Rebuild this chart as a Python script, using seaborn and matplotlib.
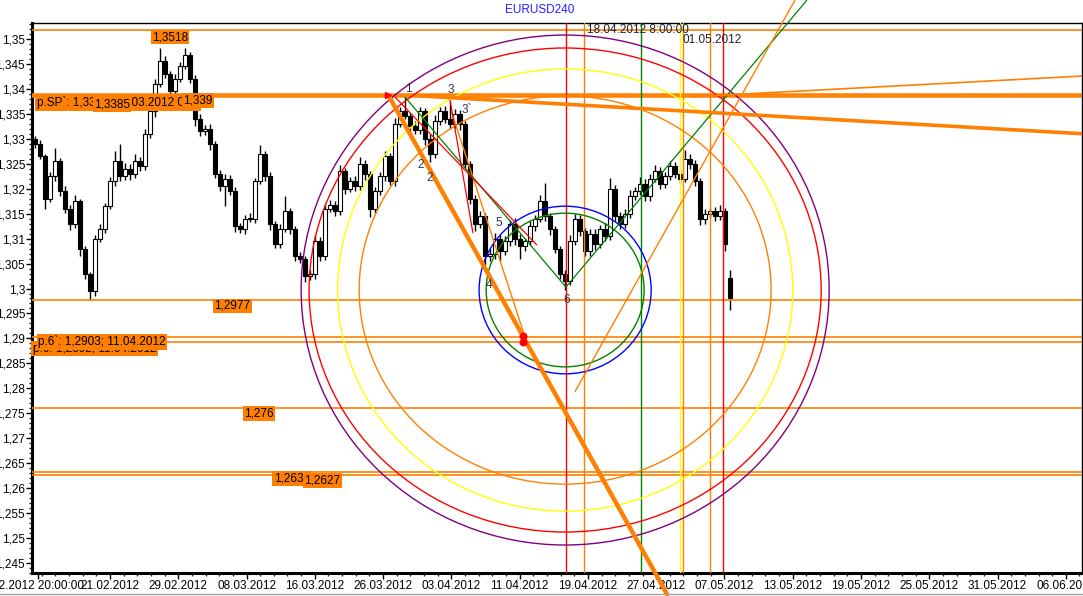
import numpy as np
import matplotlib
matplotlib.use("Agg")
import matplotlib.pyplot as plt
from matplotlib.patches import Ellipse
from matplotlib.lines import Line2D
from matplotlib.ticker import MultipleLocator, FuncFormatter, FixedLocator
import seaborn as sns

sns.set_style("white")
plt.rcParams['font.family'] = ['Liberation Sans', 'DejaVu Sans']

# ---- candles, x = trading days counted from 13.02.2012 (weekends skipped)
closes = [
    1.3290, 1.3265, 1.3180, 1.3225, 1.3255, 1.3195, 1.3160, 1.3130, 1.3175, 1.3080,
    1.3030, 1.2995, 1.3100, 1.3120, 1.3165, 1.3215, 1.3255, 1.3225, 1.3240, 1.3230,
    1.3255, 1.3245, 1.3310, 1.3355, 1.3410, 1.3455, 1.3430, 1.3395, 1.3420, 1.3445,
    1.3468, 1.3420, 1.3340, 1.3315, 1.3320, 1.3290, 1.3230, 1.3205, 1.3220, 1.3195,
    1.3125, 1.3120, 1.3140, 1.3140, 1.3215, 1.3270, 1.3225, 1.3130, 1.3090, 1.3120,
    1.3155, 1.3120, 1.3065, 1.3060, 1.3025, 1.3030, 1.3095, 1.3065, 1.3160, 1.3168,
    1.3155, 1.3235, 1.3200, 1.3215, 1.3205, 1.3250, 1.3230, 1.3160, 1.3195, 1.3225,
    1.3265, 1.3215, 1.3330, 1.3355, 1.3345, 1.3325, 1.3318, 1.3355, 1.3300, 1.3270,
    1.3335, 1.3355, 1.3340, 1.3330, 1.3350, 1.3330, 1.3250, 1.3180, 1.3130, 1.3145,
    1.3065, 1.3070, 1.3100, 1.3075, 1.3095, 1.3130, 1.3100, 1.3085, 1.3095, 1.3125,
    1.3140, 1.3175, 1.3145, 1.3120, 1.3080, 1.3030, 1.3015, 1.3095, 1.3140, 1.3115,
    1.3075, 1.3110, 1.3090, 1.3120, 1.3105, 1.3200, 1.3145, 1.3130, 1.3150, 1.3185,
    1.3195, 1.3210, 1.3185, 1.3220, 1.3235, 1.3210, 1.3225, 1.3245, 1.3230, 1.3220,
    1.3260, 1.3250, 1.3215, 1.3140, 1.3150, 1.3155, 1.3145, 1.3155, 1.3090, 1.2981,
]
# wick lengths in pips above / below the body
wick_up = [
    6, 8, 5, 9, 27, 6, 10, 7, 12, 5,
    6, 4, 8, 10, 7, 9, 20, 35, 12, 9,
    15, 8, 10, 12, 9, 27, 10, 6, 9, 8,
    14, 6, 8, 10, 7, 9, 6, 8, 10, 7,
    9, 6, 8, 12, 7, 18, 6, 8, 5, 10,
    30, 7, 6, 9, 5, 8, 12, 9, 7, 10,
    8, 12, 6, 9, 10, 14, 7, 6, 8, 9,
    10, 6, 12, 8, 29, 7, 10, 8, 6, 9,
    12, 8, 10, 35, 9, 7, 6, 5, 8, 10,
    6, 9, 12, 8, 10, 7, 12, 9, 6, 10,
    8, 12, 36, 7, 6, 5, 8, 12, 10, 7,
    6, 9, 10, 8, 12, 21, 7, 9, 10, 12,
    8, 14, 9, 10, 12, 8, 9, 11, 8, 10,
    18, 9, 7, 6, 10, 8, 9, 12, 7, 15,
]
wick_dn = [
    8, 6, 20, 7, 9, 10, 8, 12, 9, 14,
    10, 18, 9, 7, 8, 6, 9, 10, 8, 12,
    9, 10, 7, 8, 12, 6, 9, 10, 8, 7,
    6, 9, 14, 10, 8, 12, 9, 10, 40, 8,
    12, 9, 10, 7, 8, 6, 10, 12, 9, 8,
    7, 10, 9, 8, 12, 7, 10, 9, 8, 6,
    9, 8, 10, 7, 9, 8, 12, 17, 9, 7,
    10, 8, 9, 7, 6, 10, 9, 8, 12, 16,
    8, 7, 9, 10, 8, 12, 9, 10, 15, 8,
    18, 9, 10, 20, 8, 9, 12, 25, 10, 8,
    9, 7, 10, 12, 9, 10, 18, 8, 7, 10,
    10, 9, 12, 8, 10, 7, 9, 10, 8, 9,
    7, 8, 10, 9, 7, 10, 8, 7, 9, 8,
    7, 10, 9, 12, 10, 8, 9, 7, 14, 24,
]
first_open = 1.3300
gap_open = 1.3022          # 07.05 opened with a gap
first_day, last_day = -0.6, 60.5

# ---- time axis
date_labels = ['02.2012 20:00:00', '21.02.2012', '29.02.2012', '08.03.2012', '16.03.2012',
               '26.03.2012', '03.04.2012', '11.04.2012', '19.04.2012', '27.04.2012',
               '07.05.2012', '13.05.2012', '19.05.2012', '25.05.2012', '31.05.2012', '06.06.2012']
label_days = [-0.35, 6, 12, 18, 24, 30, 36, 42, 48, 54, 60, 66, 72, 78, 84, 90]

# ---- horizontal levels
levels = [1.3518, 1.3390, 1.3385, 1.2977, 1.2903, 1.2893, 1.2760, 1.2632, 1.2627]
level_lw = [1.2, 1.8, 1.8, 1.2, 1.2, 1.2, 1.2, 1.2, 1.2]

# ---- vertical lines
vline_days = [46.07, 47.65, 52.66, 56.09, 56.35, 58.72, 59.87]
vline_colors = ['#ff0000', '#ff8000', '#008000', '#ffff00', '#ff8000', '#ff8000', '#ff0000']

# ---- circles around point 6
center_day, center_price = 46.0, 1.2997
circle_rx = [23.2, 22.5, 20.0, 18.1, 7.56, 6.94]
circle_ry = [0.0511, 0.0485, 0.0443, 0.0389, 0.0168, 0.0154]
circle_colors = ['#800080', '#ff0000', '#ffff00', '#ff8000', '#0000ff', '#008000']

# ---- trend lines: day0, price0, day1, price1, color, width, clipped
trend_lines = [
    (30.45, 1.3388, 55.04, 1.2384, '#ff8000', 3.2, False),
    (36.02, 1.3354, 42.47, 1.2903, '#ff8000', 1.0, True),
    (31.92, 1.3384, 46.07, 1.3003, '#008000', 0.9, True),
    (46.07, 1.3003, 67.25, 1.3578, '#008000', 0.9, False),
    (31.04, 1.3384, 43.52, 1.3087, '#ff0000', 0.9, True),
    (35.88, 1.3378, 37.90, 1.3111, '#ff0000', 0.9, True),
    (46.86, 1.2793, 66.20, 1.3578, '#ff8000', 1.0, False),
    (33.24, 1.3386, 91.60, 1.3310, '#ff8000', 2.6, True),
    (56.97, 1.3384, 91.60, 1.3426, '#ff8000', 1.2, True),
]

# wave point labels
wave_text = ['1', '2', '2', '3', "3`", '4', '5', '6']
wave_days = [32.19, 33.33, 34.12, 35.97, 37.37, 39.30, 40.18, 46.16]
wave_prices = [1.3400, 1.3248, 1.3221, 1.3398, 1.3358, 1.3007, 1.3131, 1.2977]

# price tags (drawn in order, later ones on top)
tag_text = ['1,3518', 'p.SP`: 1,3385; 28.03.2012 0:00', '1,3385', '1,339', '1,2977',
            'p.6: 1,2892; 11.04.2012', 'p.6`: 1,2903; 11.04.2012', '1,276', '1,2632', '1,2627']
tag_days = [9.69, -0.45, 4.60, 12.45, 15.15, -0.78, -0.33, 17.78, 20.40, 23.05]
tag_prices = [1.3504, 1.3372, 1.3368, 1.3376, 1.2965, 1.2879, 1.2893, 1.2749, 1.2620, 1.2616]

dot_days = [42.29, 42.29]
dot_prices = [1.2905, 1.2893]
arrow_day, arrow_price = 30.45, 1.3388

# ---- figure
fig = plt.figure(figsize=(10.83, 5.96), dpi=100)
ax = fig.add_axes([32 / 1083, 23 / 596, 1050 / 1083, 550 / 596])

n = len(closes)
x = np.linspace(first_day, last_day, n)
c = np.array(closes)
o = np.r_[first_open, c[:-1]]
o[-1] = gap_open
top = np.maximum(o, c)
bot = np.minimum(o, c)
hi = top + np.array(wick_up) / 10000
lo = bot - np.array(wick_dn) / 10000
body = np.maximum(top - bot, 0.00006)

ax.vlines(x, lo, hi, color='black', lw=1.0, zorder=2)
up = c >= o
ax.bar(x[up], body[up], bottom=bot[up], width=0.3,
       color='white', edgecolor='black', linewidth=0.8, zorder=2.5)
ax.bar(x[~up], body[~up], bottom=bot[~up], width=0.3,
       color='black', edgecolor='black', linewidth=0.8, zorder=2.5)

for lv, lw in zip(levels, level_lw):
    ax.axhline(lv, color='#ff8000', lw=lw, zorder=3)
for d, col in zip(vline_days, vline_colors):
    ax.axvline(d, color=col, lw=1, zorder=3)

for rx, ry, col in zip(circle_rx, circle_ry, circle_colors):
    ax.add_patch(Ellipse((center_day, center_price), 2 * rx, 2 * ry, fill=False,
                         edgecolor=col, lw=1, zorder=3))

for d0, p0, d1, p1, col, lw, clip in trend_lines:
    ax.plot([d0, d1], [p0, p1], color=col, lw=lw, zorder=3.5, clip_on=clip,
            solid_capstyle='butt')

ax.plot(arrow_day, arrow_price, marker='>', color='red', ms=5, zorder=4)
sns.scatterplot(x=dot_days, y=dot_prices, color='red', s=28, edgecolor='red',
                ax=ax, zorder=4, legend=False)

for t, d, p in zip(wave_text, wave_days, wave_prices):
    ax.text(d, p, t, fontsize=8.5, color='#2a3650', ha='center', va='center', zorder=5)

for t, d, p in zip(tag_text, tag_days, tag_prices):
    ax.text(d, p, t, fontsize=8.5, color='black', ha='left', va='center', zorder=6,
            bbox=dict(boxstyle='square,pad=0.12', facecolor='#ff8000', edgecolor='none'))

ax.text(47.91, 1.3518, '18.04.2012 8:00:00', fontsize=8.5, color='#1e2230',
        ha='left', va='center', zorder=6)
ax.text(56.35, 1.3498, '01.05.2012', fontsize=8.5, color='#1e2230',
        ha='left', va='center', zorder=6)

# ---- axes
ax.set_xlim(-0.85, 91.42)
ax.set_ylim(1.24299, 1.35321)
ax.yaxis.set_major_locator(MultipleLocator(0.005))
ax.yaxis.set_minor_locator(MultipleLocator(0.001))
ax.yaxis.set_major_formatter(FuncFormatter(
    lambda v, _: f"{v:.4f}".rstrip('0').rstrip('.').replace('.', ',')))
ax.xaxis.set_major_locator(FixedLocator(label_days))
ax.set_xticklabels(date_labels)
ax.xaxis.set_minor_locator(MultipleLocator(1.2))
ax.tick_params(axis='both', which='major', direction='out', length=4, width=1,
               labelsize=8.5, colors='black', pad=1, left=True, bottom=True)
ax.tick_params(axis='both', which='minor', direction='out', length=2, width=1,
               left=True, bottom=True)
for side in ['left', 'bottom']:
    ax.spines[side].set_linewidth(2.2)
    ax.spines[side].set_color('black')
for side in ['top', 'right']:
    ax.spines[side].set_linewidth(1)
    ax.spines[side].set_color('black')

fig.text(540 / 1083, 1 - 10 / 596, 'EURUSD240', color='#2020ff', fontsize=8.5,
         ha='center', va='center')
fig.add_artist(Line2D([0, 1], [2.5 / 596, 2.5 / 596], color='#a0a0a0', lw=1))

fig.savefig('out.png', dpi=100)
